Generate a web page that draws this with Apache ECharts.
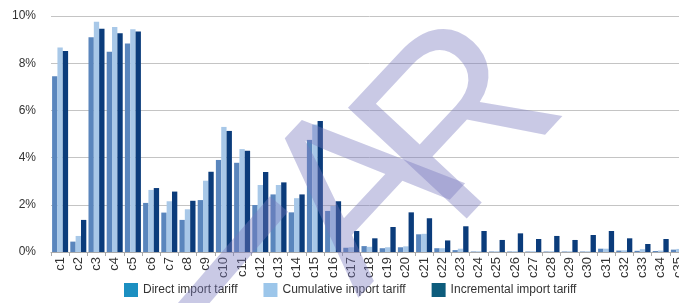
<!DOCTYPE html>
<html><head><meta charset="utf-8">
<script src="https://cdn.jsdelivr.net/npm/echarts@6/dist/echarts.min.js"></script>
<style>html,body{margin:0;padding:0;background:#fff;overflow:hidden}#c{width:700px;height:303px}</style>
</head><body><div id="c"></div>
<script>
const categories = ['c1','c2','c3','c4','c5','c6','c7','c8','c9','c10','c11','c12','c13','c14','c15','c16','c17','c18','c19','c20','c21','c22','c23','c24','c25','c26','c27','c28','c29','c30','c31','c32','c33','c34','c35'];
const directTariff = [7.45,0.44,9.1,8.49,8.83,2.08,1.67,1.36,2.2,3.9,3.78,1.99,2.44,1.68,4.75,1.74,0.18,0.25,0.16,0.2,0.75,0.16,0.08,0.02,0.02,0.02,0.02,0.02,0.02,0.02,0.14,0.06,0.05,0.04,0.1];
const cumulativeTariff = [8.67,0.68,9.76,9.53,9.44,2.63,2.15,1.81,3.02,5.3,4.36,2.84,2.84,2.28,5.4,1.95,0.2,0.22,0.2,0.24,0.77,0.16,0.14,0.03,0.03,0.03,0.03,0.03,0.03,0.03,0.14,0.07,0.12,0.06,0.13];
const incrementalTariff = [8.52,1.36,9.46,9.27,9.34,2.71,2.56,2.17,3.4,5.13,4.29,3.39,2.95,2.44,5.55,2.15,0.89,0.58,1.06,1.68,1.43,0.49,1.09,0.89,0.51,0.79,0.55,0.68,0.51,0.72,0.89,0.58,0.34,0.55,0.5];
const seriesNames = ['Direct import tariff','Cumulative import tariff','Incremental import tariff'];
const yTicks = [0,2,4,6,8,10];
const watermarkLetters = ['A','R'];

const barColors = ['#5a86bd','#a8c8e8','#0b3c7b'];
const legendColors = ['#1b8fc1','#9cc6ea','#0d5c7c'];
const font = 'Liberation Sans, Arial, sans-serif';
const wmFill = 'rgba(120,120,190,0.4)';
const wmPos = [[364,196],[464,126]];

const chart = echarts.init(document.getElementById('c'));
const data = [directTariff, cumulativeTariff, incrementalTariff];
const graphics = watermarkLetters.map((t,i)=>({
  type:'text', x:wmPos[i][0], y:wmPos[i][1], z:100, rotation:0.82,
  style:{text:t, x:0, y:0, textAlign:'center', textVerticalAlign:'middle',
    font:'236px "Liberation Sans", Arial, sans-serif', fill:wmFill}
}));
graphics.push({
  type:'rect', x:279, y:204, z:100, rotation:0.86,
  shape:{x:-170, y:-12, width:170, height:24},
  style:{fill:wmFill}
});
chart.setOption({
  animation:false,
  grid:{left:51, top:16, width:637, height:236, containLabel:false},
  legend:{
    left:124, top:283, padding:0, itemWidth:14, itemHeight:14, itemGap:26,
    textStyle:{fontFamily:font, fontSize:12, color:'#333'},
    data: seriesNames.map((n,i)=>({name:n, icon:'rect', itemStyle:{color:legendColors[i]}}))
  },
  xAxis:{
    type:'category', data:categories,
    axisLine:{lineStyle:{color:'#aaa'}},
    axisTick:{show:true, length:4, lineStyle:{color:'#aaa'}},
    axisLabel:{rotate:90, interval:0, fontFamily:font, fontSize:13, color:'#333', margin:5}
  },
  yAxis:{
    type:'value', min:yTicks[0], max:yTicks[yTicks.length-1], interval:2,
    axisLine:{show:false}, axisTick:{show:false},
    splitLine:{lineStyle:{color:'#c4c4c4'}},
    axisLabel:{formatter:'{value}%', fontFamily:font, fontSize:12, color:'#333', margin:15}
  },
  series: seriesNames.map((n,i)=>({
    name:n, type:'bar', data:data[i], barGap:'0%', barCategoryGap:'12%',
    itemStyle:{color:barColors[i]}
  })),
  graphic: graphics
});
</script></body></html>
